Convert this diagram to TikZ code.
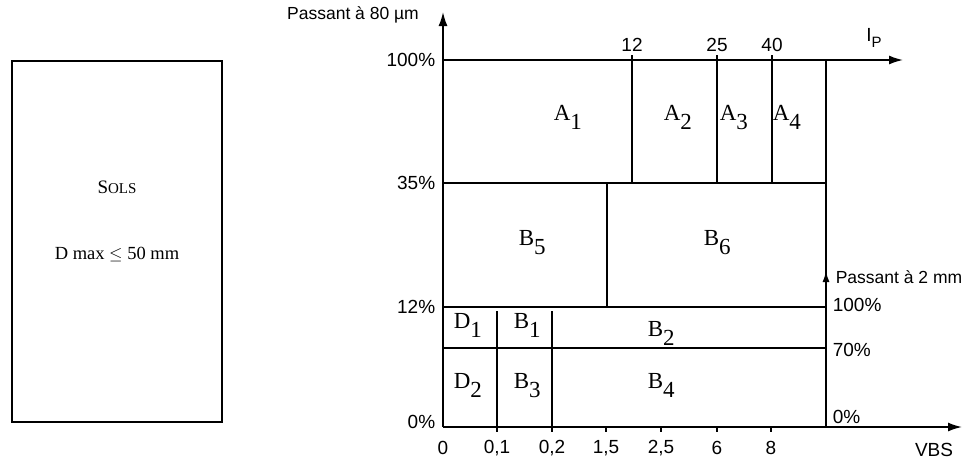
\documentclass[tikz,border=0pt]{standalone}
\usepackage{fontspec}
\setmainfont{Liberation Serif}
\setsansfont{Liberation Sans}
\usetikzlibrary{positioning, arrows.meta}

\newcommand{\zone}[2]{#1\raisebox{-9pt}{#2}}

\begin{document}
\begin{tikzpicture}[x=1pt, y=-1pt, line width=1.6pt,
  axislab/.style={font=\sffamily\fontsize{19}{19}\selectfont, inner sep=1pt},
  passlab/.style={font=\sffamily\fontsize{17.5}{17.5}\selectfont, inner sep=1pt},
  zonelab/.style={font=\fontsize{23}{23}\selectfont, inner sep=0pt, anchor=base west},
  axisline/.style={-{Latex[length=14pt, width=9pt]}, line width=1.6pt}]
  \useasboundingbox (0,0) rectangle (963,461);

  % Left box
  \node[draw, line width=1.6pt, minimum width=210pt, minimum height=361pt] (sols) at (117,241.5) {};
  \node (solsname) at (117,187) {\fontsize{19}{19}\selectfont S\fontsize{15}{15}\selectfont OLS};
  \node (dmax) at (117,255) {\fontsize{18.5}{18.5}\selectfont D max $\leq$ 50 mm};

  % Axes
  \coordinate (o) at (443,427);
  \coordinate (ytop) at (443,12);
  \coordinate (xend) at (962,427);
  \coordinate (tl) at (443,60);
  \coordinate (ipend) at (903,60);
  \coordinate (r0) at (826,427);
  \coordinate (rtop) at (826,271);
  \draw[axisline] (o) -- (ytop);
  \draw[axisline] (o) -- (xend);
  \draw[axisline] (tl) -- (ipend);
  \draw[-{Latex[length=11pt, width=7pt]}] (r0) -- (rtop);

  % Grid
  \draw (826,60) -- (826,307);
  \draw (443,183) -- (826,183);
  \draw (443,307) -- (826,307);
  \draw (443,348) -- (826,348);
  \foreach \x in {632,717,772} \draw (\x,55) -- (\x,183);
  \draw (607,183) -- (607,307);
  \foreach \x in {497,552} \draw (\x,311) -- (\x,432);
  \foreach \x in {606,661,717,771} \draw (\x,427) -- (\x,432);

  % Axis labels
  \node[passlab] (p80) at (353,15) {Passant à 80 µm};
  \node[axislab, anchor=east] (y100) at (437,60) {100\%};
  \node[axislab, anchor=east] (y35) at (437,183) {35\%};
  \node[axislab, anchor=east] (y12) at (437,307) {12\%};
  \node[axislab, anchor=east] (y0) at (437,422) {0\%};
  \foreach \x/\t in {632/12,717/25,772/40}
    \node[axislab] at (\x,45) {\t};
  \node[axislab] (ip) at (874,38) {I\raisebox{-6pt}{\fontsize{15}{15}\selectfont P}};
  \foreach \x/\t in {443/0,497/{0,1},552/{0,2},606/{1,5},661/{2,5},717/6,771/8}
    \node[axislab] at (\x,448) {\t};
  \node[axislab] (vbs) at (934,450) {VBS};
  \node[passlab, anchor=west] (p2) at (834,277) {Passant à 2 mm};
  \node[axislab, anchor=west] (r100) at (831,305) {100\%};
  \node[axislab, anchor=west] (r70) at (831,350) {70\%};
  \node[axislab, anchor=west] (r0lab) at (831,417) {0\%};

  % Zones
  \node[zonelab] (a1) at (553,120) {\zone{A}{1}};
  \node[zonelab] (a2) at (663,120) {\zone{A}{2}};
  \node[zonelab] (a3) at (719,120) {\zone{A}{3}};
  \node[zonelab] (a4) at (772,120) {\zone{A}{4}};
  \node[zonelab] (b5) at (518,245) {\zone{B}{5}};
  \node[zonelab] (b6) at (703,245) {\zone{B}{6}};
  \node[zonelab] (d1) at (453,328) {\zone{D}{1}};
  \node[zonelab] (b1) at (513,328) {\zone{B}{1}};
  \node[zonelab] (b2) at (647,336) {\zone{B}{2}};
  \node[zonelab] (d2) at (453,388) {\zone{D}{2}};
  \node[zonelab] (b3) at (513,388) {\zone{B}{3}};
  \node[zonelab] (b4) at (647,388) {\zone{B}{4}};
\end{tikzpicture}
\end{document}
